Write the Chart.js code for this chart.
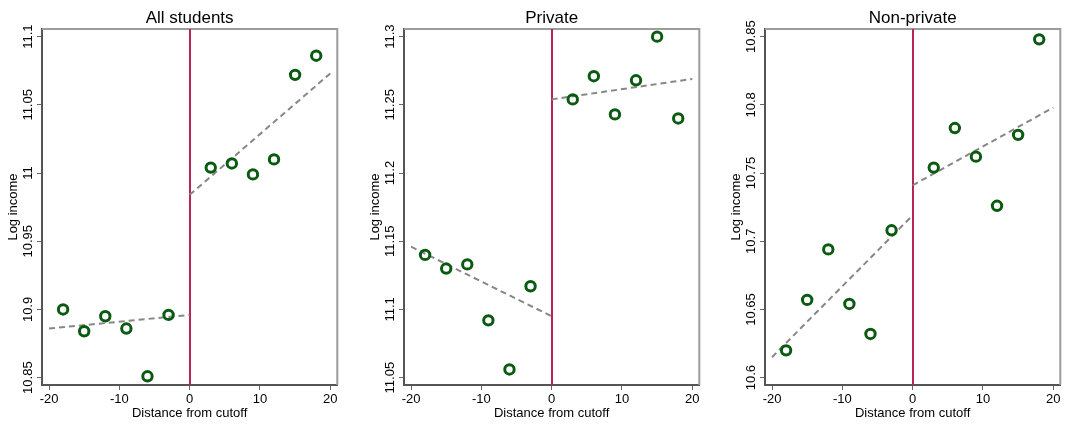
<!DOCTYPE html>
<html>
<head>
    <style>
        body {
            margin: 0;
            background: #fff;
            width: 1068px;
            height: 424px;
            position: relative;
            overflow: hidden;
        }
        .panel {
            position: absolute;
            top: 0;
            width: 345px;
            height: 424px;
        }
    </style>
    <script src="https://cdn.jsdelivr.net/npm/chart.js"></script>
</head>
<body>
    <div class="panel" style="left: 0px;"><canvas id="chartAll"></canvas></div>
    <div class="panel" style="left: 362px;"><canvas id="chartPrivate"></canvas></div>
    <div class="panel" style="left: 723px;"><canvas id="chartNonPrivate"></canvas></div>
    <script>
        // bins either side of the cutoff
        var binsLeft = [-18, -15, -12, -9, -6, -3];
        var binsRight = [3, 6, 9, 12, 15, 18];
        var xTicks = [-20, -10, 0, 10, 20];

        // mean log income per bin
        var allLeft = [10.900, 10.884, 10.895, 10.886, 10.851, 10.896];
        var allRight = [11.004, 11.007, 10.999, 11.010, 11.072, 11.086];
        var privateLeft = [11.140, 11.130, 11.133, 11.092, 11.056, 11.117];
        var privateRight = [11.254, 11.271, 11.243, 11.268, 11.300, 11.240];
        var nonPrivateLeft = [10.620, 10.657, 10.694, 10.654, 10.632, 10.708];
        var nonPrivateRight = [10.754, 10.783, 10.762, 10.726, 10.778, 10.848];

        // linear fits: value at x = -20 and 0 (left), 0 and 20 (right)
        var fitX = { left: [-20, 0], right: [0, 20] };
        var allFitLeft = [10.886, 10.896];
        var allFitRight = [10.984, 11.073];
        var privateFitLeft = [11.146, 11.095];
        var privateFitRight = [11.254, 11.269];
        var nonPrivateFitLeft = [10.615, 10.719];
        var nonPrivateFitRight = [10.741, 10.798];

        // y axis tick labels
        var allTicks = [10.85, 10.9, 10.95, 11, 11.05, 11.1];
        var privateTicks = [11.05, 11.1, 11.15, 11.2, 11.25, 11.3];
        var nonPrivateTicks = [10.6, 10.65, 10.7, 10.75, 10.8, 10.85];

        var FONT = '"Liberation Sans", Arial, sans-serif';

        function pts(xs, ys) {
            return xs.map(function (x, i) { return { x: x, y: ys[i] }; });
        }

        // frame, cutoff line, titles and rotated y labels
        var panelDecor = {
            id: 'panelDecor',
            beforeDatasetsDraw: function (chart, args, opts) {
                var ctx = chart.ctx, a = chart.chartArea;
                ctx.save();
                ctx.strokeStyle = '#9c9c9c';
                ctx.lineWidth = 2;
                ctx.beginPath();
                ctx.moveTo(a.left, a.top);
                ctx.lineTo(a.right, a.top);
                ctx.lineTo(a.right, a.bottom);
                ctx.stroke();

                var x0 = Math.round(chart.scales.x.getPixelForValue(0));
                ctx.strokeStyle = '#b62459';
                ctx.lineWidth = 2;
                ctx.beginPath();
                ctx.moveTo(x0, a.top);
                ctx.lineTo(x0, a.bottom);
                ctx.stroke();
                ctx.restore();
            },
            afterDraw: function (chart, args, opts) {
                var ctx = chart.ctx, a = chart.chartArea, y = chart.scales.y;
                var cx = (a.left + a.right) / 2;
                ctx.save();
                ctx.fillStyle = '#000';
                ctx.textAlign = 'center';
                ctx.textBaseline = 'middle';
                ctx.font = '17px ' + FONT;
                ctx.fillText(opts.title, cx, 18);

                ctx.font = '13px ' + FONT;
                ctx.fillText('Distance from cutoff', cx, 413);

                // y tick labels, reading bottom to top
                opts.ticks.forEach(function (v) {
                    var py = y.getPixelForValue(v);
                    ctx.save();
                    ctx.translate(a.left - 14, py);
                    ctx.rotate(-Math.PI / 2);
                    ctx.fillText(String(v), 0, 0);
                    ctx.restore();
                });

                ctx.save();
                ctx.translate(a.left - 29, (a.top + a.bottom) / 2);
                ctx.rotate(-Math.PI / 2);
                ctx.fillText('Log income', 0, 0);
                ctx.restore();
                ctx.restore();
            }
        };

        function makePanel(id, title, left, right, fitLeft, fitRight, ticks) {
            var ctx = document.getElementById(id).getContext('2d');
            var ymin = ticks[0] - 0.0054;
            var ymax = ticks[ticks.length - 1] + 0.0056;
            return new Chart(ctx, {
                type: 'scatter',
                data: {
                    datasets: [{
                        data: pts(binsLeft, left).concat(pts(binsRight, right)),
                        pointStyle: 'circle',
                        pointRadius: 4.7,
                        pointBorderWidth: 3,
                        borderColor: '#0b5a12',
                        backgroundColor: 'rgba(0,0,0,0)',
                        showLine: false
                    }, {
                        data: pts(fitX.left, fitLeft),
                        showLine: true,
                        pointRadius: 0,
                        borderColor: '#878787',
                        borderWidth: 2,
                        borderDash: [6, 4]
                    }, {
                        data: pts(fitX.right, fitRight),
                        showLine: true,
                        pointRadius: 0,
                        borderColor: '#878787',
                        borderWidth: 2,
                        borderDash: [6, 4]
                    }]
                },
                options: {
                    responsive: true,
                    maintainAspectRatio: false,
                    animation: false,
                    layout: { padding: { top: 29, right: 4, bottom: 0, left: 0 } },
                    plugins: {
                        legend: { display: false },
                        tooltip: { enabled: false },
                        panelDecor: { title: title, ticks: ticks }
                    },
                    scales: {
                        x: {
                            type: 'linear',
                            min: -21,
                            max: 21,
                            afterBuildTicks: function (s) {
                                s.ticks = xTicks.map(function (v) { return { value: v }; });
                            },
                            afterFit: function (s) { s.height = 39; },
                            grid: { drawOnChartArea: false, drawTicks: true, tickLength: 5, tickColor: '#666', tickWidth: 1 },
                            border: { display: true, color: '#555', width: 2 },
                            ticks: {
                                padding: 2,
                                maxRotation: 0,
                                color: '#000',
                                font: { family: FONT, size: 13 }
                            }
                        },
                        y: {
                            type: 'linear',
                            min: ymin,
                            max: ymax,
                            afterBuildTicks: function (s) {
                                s.ticks = ticks.map(function (v) { return { value: v }; });
                            },
                            afterFit: function (s) { s.width = 42; },
                            grid: { drawOnChartArea: false, drawTicks: true, tickLength: 5, tickColor: '#666', tickWidth: 1 },
                            border: { display: true, color: '#555', width: 2 },
                            ticks: { display: false }
                        }
                    }
                },
                plugins: [panelDecor]
            });
        }

        makePanel('chartAll', 'All students', allLeft, allRight, allFitLeft, allFitRight, allTicks);
        makePanel('chartPrivate', 'Private', privateLeft, privateRight, privateFitLeft, privateFitRight, privateTicks);
        makePanel('chartNonPrivate', 'Non-private', nonPrivateLeft, nonPrivateRight, nonPrivateFitLeft, nonPrivateFitRight, nonPrivateTicks);
    </script>
</body>
</html>
